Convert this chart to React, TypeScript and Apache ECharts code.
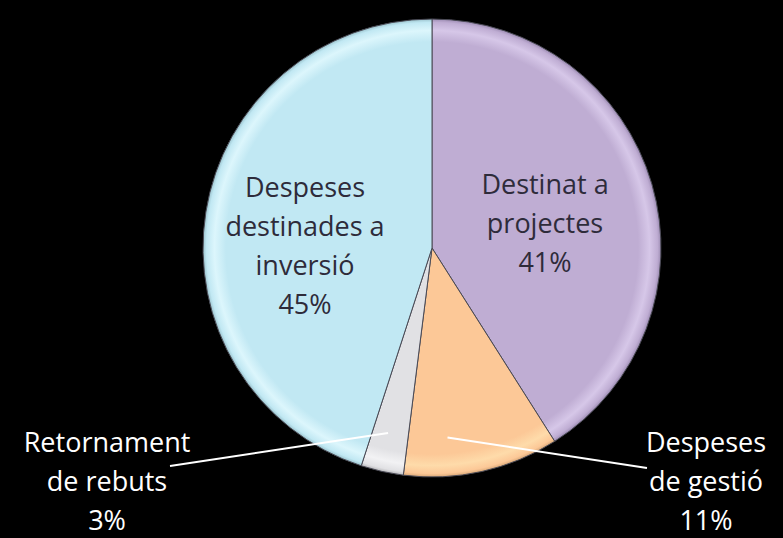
import React, { useEffect, useRef } from "react";
import * as echarts from "echarts";

const categories = [
  "Destinat a projectes",
  "Despeses de gestió",
  "Retornament de rebuts",
  "Despeses destinades a inversió",
];
const labelTexts = [
  "Destinat a\nprojectes",
  "Despeses\nde gestió",
  "Retornament\nde rebuts",
  "Despeses\ndestinades a\ninversió",
];
const values = [41, 11, 3, 45];
const baseColors = ["#bfadd3", "#fcc897", "#e1e1e4", "#c1e8f3"];
const rimColors = ["#d6c7e8", "#fedbaa", "#f2f2f4", "#dcf6fc"];
const edgeColors = ["#9d8cb3", "#d8a878", "#b8b8bb", "#9cc4ce"];
const outside = [false, true, true, false];

// layout constants
const CX = 432;
const CY = 248;
const R = 229;
const labelPos: Record<number, [number, number]> = {
  0: [545, 222],
  1: [706, 480],
  2: [107, 480],
  3: [305, 245],
};
const leaderFrac: Record<number, number> = { 1: 0.7, 2: 0.57 };
const leaderEnd: Record<number, [number, number]> = { 1: [647, 468], 2: [170, 466] };

export default function App() {
  const ref = useRef<HTMLDivElement>(null);
  useEffect(() => {
    document.body.style.margin = "0";
    document.body.style.background = "#000";
    const chart = echarts.init(ref.current!, undefined, { renderer: "svg" });
    const total = values.reduce((a, b) => a + b, 0);
    // compute leader lines from data angles
    const lines: any[] = [];
    let acc = 0;
    values.forEach((v, i) => {
      const startDeg = 90 - (acc / total) * 360;
      const endDeg = 90 - ((acc + v) / total) * 360;
      acc += v;
      if (leaderFrac[i] != null) {
        const a = ((startDeg + (endDeg - startDeg) * leaderFrac[i]) * Math.PI) / 180;
        const sx = CX + 0.83 * R * Math.cos(a);
        const sy = CY - 0.83 * R * Math.sin(a);
        const [ex, ey] = leaderEnd[i];
        lines.push({
          type: "line",
          shape: { x1: sx, y1: sy, x2: ex, y2: ey },
          style: { stroke: "#ffffff", lineWidth: 2 },
          z: 10,
        });
      }
    });
    const grad = (i: number) => ({
      type: "radial",
      x: CX,
      y: CY,
      r: R,
      global: true,
      colorStops: [
        { offset: 0, color: baseColors[i] },
        { offset: 0.9, color: baseColors[i] },
        { offset: 0.95, color: rimColors[i] },
        { offset: 0.985, color: baseColors[i] },
        { offset: 1, color: edgeColors[i] },
      ],
    });
    chart.setOption({
      animation: false,
      backgroundColor: "#000000",
      graphic: lines,
      series: [
        {
          type: "pie",
          center: [CX, CY],
          radius: [0, R],
          startAngle: 90,
          clockwise: true,
          avoidLabelOverlap: false,
          itemStyle: { borderColor: "#4a4a55", borderWidth: 1 },
          labelLine: { show: false },
          label: {
            fontFamily: "Open Sans",
            fontSize: 27,
            lineHeight: 39,
            align: "center",
          },
          labelLayout: (p: any) => {
            const pos = labelPos[p.dataIndex];
            return { x: pos[0], y: pos[1], align: "center", verticalAlign: "middle" };
          },
          data: values.map((v, i) => ({
            name: categories[i],
            value: v,
            itemStyle: { color: grad(i) },
            label: {
              position: outside[i] ? "outside" : "inside",
              color: outside[i] ? "#ffffff" : "#2e2b3a",
              formatter: labelTexts[i] + "\n" + v + "%",
            },
          })),
        },
      ],
    });
    return () => chart.dispose();
  }, []);
  return <div ref={ref} style={{ width: 783, height: 538, background: "#000" }} />;
}
